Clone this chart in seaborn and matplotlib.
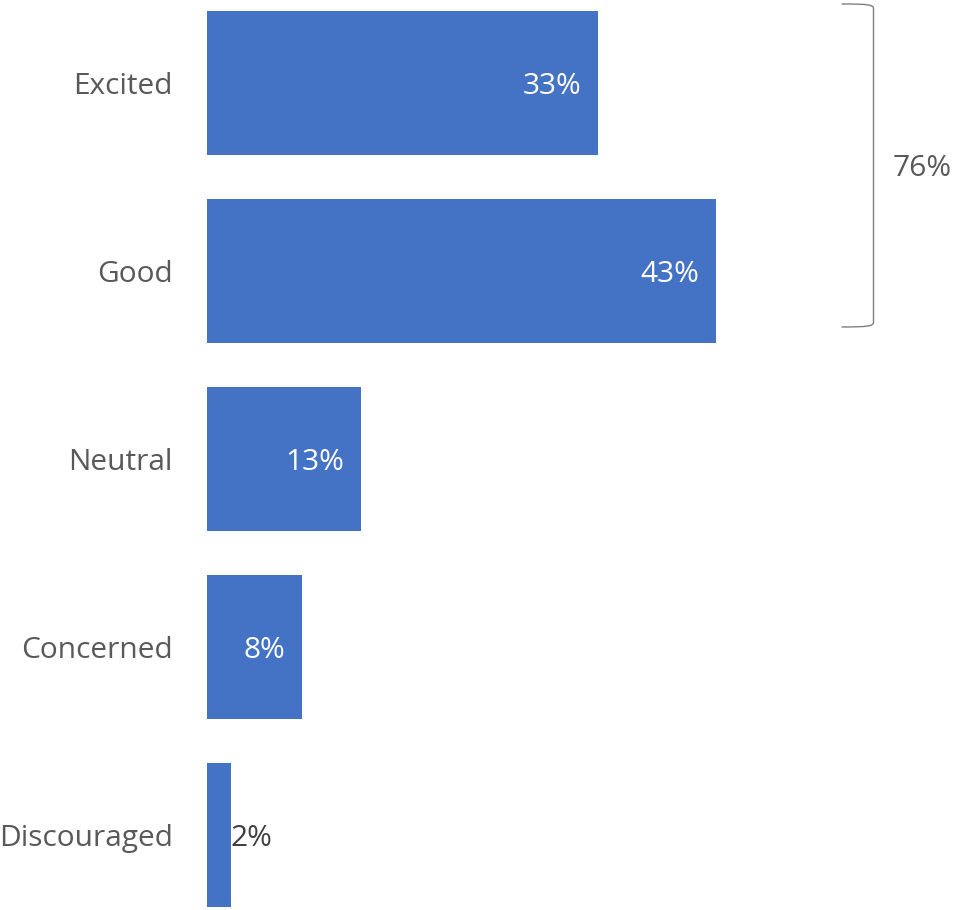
import matplotlib
matplotlib.use("Agg")
import matplotlib.pyplot as plt
import seaborn as sns
import pandas as pd
from matplotlib.path import Path
from matplotlib.patches import PathPatch

categories = ["Excited", "Good", "Neutral", "Concerned", "Discouraged"]
values = [33, 43, 13, 8, 2]
bracket_group = ["Excited", "Good"]

BAR_COLOR = "#4472C4"
TEXT_COLOR = "#595959"
FS = 21.5

sns.set_theme(style="white")
plt.rcParams["font.family"] = ["Open Sans", "DejaVu Sans"]

df = pd.DataFrame({"category": categories, "value": values})

fig = plt.figure(figsize=(9.54, 9.10), dpi=100)
ax = fig.add_axes([207 / 954, 0, 747 / 954, 1])

sns.barplot(data=df, y="category", x="value", order=categories,
            color=BAR_COLOR, saturation=1, width=0.766, linewidth=0, ax=ax)

ax.set_xlim(0, 63.1)
ax.set_ylim(4.399, -0.441)
ax.set_xlabel("")
ax.set_ylabel("")
ax.set_xticks([])
for s in ax.spines.values():
    s.set_visible(False)
ax.tick_params(axis="y", length=0, pad=24.5, labelsize=FS, labelcolor=TEXT_COLOR)

# value labels: inside the bar end when it fits, otherwise just outside
for i, v in enumerate(values):
    if v >= 5:
        ax.annotate(f"{v}%", xy=(v, i), xytext=(-12, -2.5), textcoords="offset points",
                    ha="right", va="center", color="white", fontsize=FS)
    else:
        ax.annotate(f"{v}%", xy=(v, i), xytext=(0, -2.5), textcoords="offset points",
                    ha="left", va="center", color="#404040", fontsize=FS)

# bracket grouping the top two answers
xb, xt = 56.3, 53.6
y0, y1 = -0.420, 1.298
c = 0.025
verts = [(xt, y0), (xb - 0.5, y0), (xb, y0 + 0.004), (xb, y0 + c),
         (xb, y1 - c), (xb, y1 - 0.004), (xb - 0.5, y1), (xt, y1)]
codes = [Path.MOVETO, Path.CURVE4, Path.CURVE4, Path.CURVE4,
         Path.LINETO, Path.CURVE4, Path.CURVE4, Path.CURVE4]
ax.add_patch(PathPatch(Path(verts, codes), fill=False, edgecolor="#7F7F7F",
                       linewidth=1.0, clip_on=False))
group_total = sum(v for c_, v in zip(categories, values) if c_ in bracket_group)
ax.annotate(f"{group_total}%", xy=(60.4, (y0 + y1) / 2), xytext=(0, -2.5),
            textcoords="offset points", ha="center", va="center",
            color=TEXT_COLOR, fontsize=FS)

fig.savefig("out.png", dpi=100, facecolor="white")
